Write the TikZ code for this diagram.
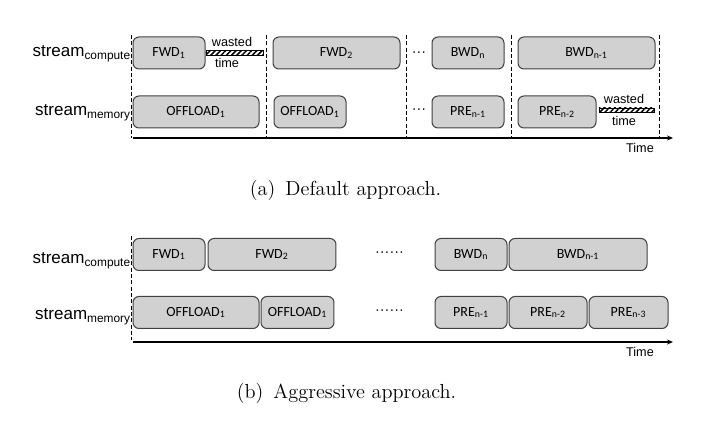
\documentclass[tikz,border=0pt]{standalone}
\usepackage{fontspec}
\newfontfamily\calibrifont{Carlito}
\newfontfamily\arialfont{Liberation Sans}
\usetikzlibrary{arrows.meta,patterns.meta,positioning}

\begin{document}
\begin{tikzpicture}[x=0.6pt,y=-0.6pt]
	\tikzstyle{every node}=[inner sep=0pt, outer sep=0pt]
	\tikzstyle{job}=[draw=black!75, fill=black!18, rounded corners=3.6pt, line width=0.6pt, minimum height=19.2pt, font=\calibrifont\fontsize{8.4}{10}\selectfont]
	\tikzstyle{stream}=[anchor=base east, font=\arialfont\fontsize{10.2}{12}\selectfont]
	\tikzstyle{small}=[font=\arialfont\fontsize{7.6}{9}\selectfont]
	\tikzstyle{dots}=[font=\arialfont\fontsize{8.6}{9}\selectfont]
	\tikzstyle{sep}=[dashed, line width=0.6pt, dash pattern=on 2.4pt off 1.4pt]
	\tikzstyle{waste}=[draw, line width=0.5pt, pattern={Lines[angle=45,distance=2.2pt,line width=0.9pt]}]
	\tikzstyle{axis}=[line width=1.1pt, -{Stealth[length=3.6pt,width=3pt]}]
	\tikzstyle{caption}=[font=\fontsize{12.2}{14}\selectfont]
	\useasboundingbox (0,0) rectangle (713,432);

	% (a) default approach
	\node [stream] (scA) at (131,57) {stream\textsubscript{compute}};
	\node [stream] (smA) at (131,116) {stream\textsubscript{memory}};
	\draw [sep] (131,35) -- (131,138);
	\draw [sep] (266,35) -- (266,138);
	\draw [sep] (406,35) -- (406,138);
	\draw [sep] (511,35) -- (511,138);
	\draw [sep] (659,35) -- (659,138);
	\node [job, minimum width=43.2pt] (fwdA1) at (169,53) {FWD\textsubscript{1}};
	\node [job, minimum width=76.2pt] (fwdA2) at (336.5,53) {FWD\textsubscript{2}};
	\node [dots] (dotsA1) at (419,54) {···};
	\node [job, minimum width=43.2pt] (bwdAn) at (468,53) {BWD\textsubscript{n}};
	\node [job, minimum width=82.2pt] (bwdAm) at (586.5,53) {BWD\textsubscript{n-1}};
	\node [job, minimum width=75.6pt] (offA1) at (196,112) {OFFLOAD\textsubscript{1}};
	\node [job, minimum width=43.2pt] (offA2) at (310,112) {OFFLOAD\textsubscript{1}};
	\node [dots] (dotsA2) at (419,111) {···};
	\node [job, minimum width=43.2pt] (preA1) at (468,112) {PRE\textsubscript{n-1}};
	\node [job, minimum width=46.8pt] (preA2) at (557,112) {PRE\textsubscript{n-2}};
	% wasted time
	\draw [waste] (206,50.5) rectangle (263,55);
	\node [small] (wA1) at (232,42) {wasted};
	\node [small] (tA1) at (227,63) {time};
	\draw [waste] (599,108) rectangle (654,112.5);
	\node [small] (wA2) at (624,99) {wasted};
	\node [small] (tA2) at (624,121) {time};
	\coordinate (tA0) at (133,138);
	\coordinate (tA9) at (673,138);
	\draw [axis] (tA0) -- (tA9);
	\node [small] (timeA) at (640,148) {Time};
	\node [caption] (capA) at (345.5,190) {(a)\enspace Default approach.};

	% (b) aggressive approach
	\node [stream] (scB) at (131,264) {stream\textsubscript{compute}};
	\node [stream] (smB) at (131,320) {stream\textsubscript{memory}};
	\draw [sep] (131,236) -- (131,340);
	\node [job, minimum width=43.2pt] (fwdB1) at (169,254.5) {FWD\textsubscript{1}};
	\node [job, minimum width=76.8pt, right=1.8pt of fwdB1] (fwdB2) {FWD\textsubscript{2}};
	\node [dots] (dotsB1) at (389.5,254.5) {······};
	\node [job, minimum width=43.2pt] (bwdBn) at (471,254.5) {BWD\textsubscript{n}};
	\node [job, minimum width=82.8pt, right=1.2pt of bwdBn] (bwdBm) {BWD\textsubscript{n-1}};
	\node [job, minimum width=75.6pt] (offB1) at (196,312.5) {OFFLOAD\textsubscript{1}};
	\node [job, minimum width=43.8pt, right=1.2pt of offB1] (offB2) {OFFLOAD\textsubscript{1}};
	\node [dots] (dotsB2) at (389.5,312.5) {······};
	\node [job, minimum width=43.2pt] (preB1) at (471,312.5) {PRE\textsubscript{n-1}};
	\node [job, minimum width=46.8pt, right=1.2pt of preB1] (preB2) {PRE\textsubscript{n-2}};
	\node [job, minimum width=47.4pt, right=1.2pt of preB2] (preB3) {PRE\textsubscript{n-3}};
	\coordinate (tB0) at (133,342);
	\coordinate (tB9) at (673,342);
	\draw [axis] (tB0) -- (tB9);
	\node [small] (timeB) at (640,352) {Time};
	\node [caption] (capB) at (346.5,393) {(b)\enspace Aggressive approach.};
\end{tikzpicture}
\end{document}
